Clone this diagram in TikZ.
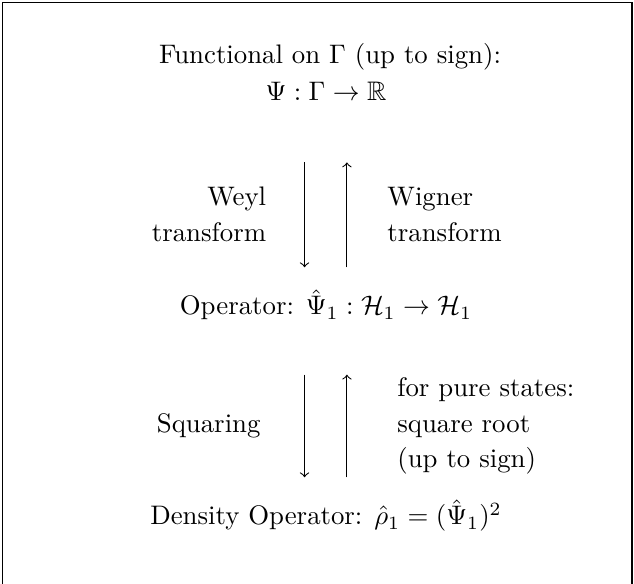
\documentclass[tikz,border=0pt]{standalone}
\usepackage{amsmath,amssymb}
\usetikzlibrary{positioning}

\begin{document}
\begin{tikzpicture}[x=0.3731pt,y=-0.3731pt,
  lbl/.style={font=\linespread{1.117}\selectfont}]
  \useasboundingbox (0,0) rectangle (634,584);
  % frame, open at the bottom
  \draw (2.5,600) -- (2.5,2.5) -- (632,2.5) -- (632,600);
  \node[anchor=base] (title) at (330,64) {Functional on $\Gamma$ (up to sign):};
  \node[anchor=base] (psi) at (326,101) {$\Psi:\Gamma\to\mathbb{R}$};
  \node[anchor=base] (op) at (326,315) {Operator: $\hat{\Psi}_1:\mathcal{H}_1\to\mathcal{H}_1$};
  \node[anchor=base] (dens) at (326,525) {Density Operator: $\hat{\rho}_1=(\hat{\Psi}_1)^2$};
  % upper pair
  \draw[->,shorten <=19.4pt,shorten >=4.8pt] ([xshift=-8pt]psi.south) -- ([xshift=-8pt]op.north)
    node[pos=0.614,left=10.8pt,align=right,lbl] (weyl) {Weyl\\transform};
  \draw[->,shorten <=4.8pt,shorten >=19.4pt] ([xshift=7.8pt]op.north) -- ([xshift=7.8pt]psi.south)
    node[pos=0.386,right=11.6pt,align=left,lbl] (wigner) {Wigner\\transform};
  % lower pair
  \draw[->,shorten <=16.8pt,shorten >=4.8pt] ([xshift=-8pt]op.south) -- ([xshift=-8pt]dens.north)
    node[pos=0.6,left=12.9pt,lbl] (sq) {Squaring};
  \draw[->,shorten <=4.8pt,shorten >=16.8pt] ([xshift=7.8pt]dens.north) -- ([xshift=7.8pt]op.south)
    node[pos=0.4,right=15.3pt,align=left,lbl] (root) {for pure states:\\square root\\(up to sign)};
\end{tikzpicture}
\end{document}
